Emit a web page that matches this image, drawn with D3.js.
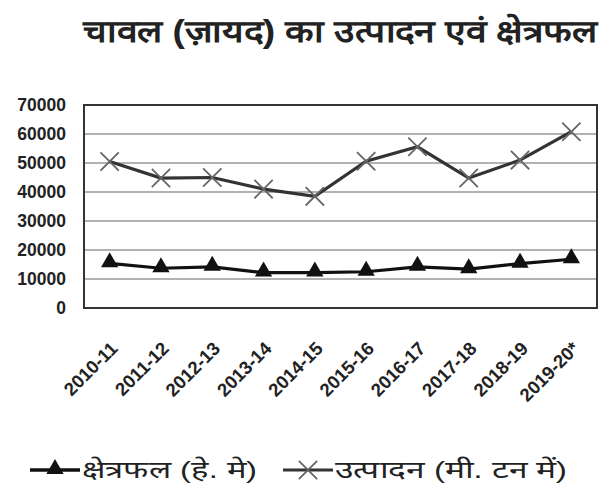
<!DOCTYPE html>
<html><head><meta charset="utf-8">
<script src="https://cdn.jsdelivr.net/npm/d3@7"></script>
<style>
body{margin:0;background:#fff;}
text{font-family:"Liberation Sans",Arial,sans-serif;}
</style></head>
<body>
<svg id="chart" width="603" height="489"></svg>
<script>
const title = "चावल (ज़ायद) का उत्पादन एवं क्षेत्रफल";
const categories = ["2010-11","2011-12","2012-13","2013-14","2014-15","2015-16","2016-17","2017-18","2018-19","2019-20*"];
const production = [50500,44800,45000,41000,38500,50600,55600,44800,51000,60800];
const area = [15400,13700,14200,12200,12200,12500,14200,13400,15300,16800];
const yTicks = [0,10000,20000,30000,40000,50000,60000,70000];
const seriesNames = ["क्षेत्रफल (हे. मे)","उत्पादन (मी. टन में)"];

const svg = d3.select("#chart");
const m = {left:84, right:597, top:105, bottom:308};

const x = d3.scalePoint().domain(categories).range([m.left, m.right]).padding(0.5);
const y = d3.scaleLinear().domain([0,70000]).range([m.bottom, m.top]);

// title
svg.append("text").attr("x", 83).attr("y", 42)
  .attr("font-size", 31).attr("font-weight","bold").attr("fill","#222")
  .attr("textLength", 514).attr("lengthAdjust","spacingAndGlyphs").text(title);

// gridlines
svg.append("g").selectAll("line").data(yTicks.slice(1,-1)).join("line")
  .attr("x1", m.left).attr("x2", m.right).attr("y1", d=>y(d)).attr("y2", d=>y(d))
  .attr("stroke","#999").attr("stroke-width",1.6);

// y axis labels
const yAxis = d3.axisLeft(y).tickValues(yTicks).tickSize(0).tickPadding(18).tickFormat(d3.format("d"));
const ga = svg.append("g").attr("transform",`translate(${m.left},0)`).call(yAxis);
ga.select(".domain").remove();
ga.selectAll("text").attr("font-size",17.5).attr("font-weight","bold").attr("fill","#222")
  .attr("font-family","'Liberation Sans',Arial,sans-serif");

// x axis labels
const xAxis = d3.axisBottom(x).tickSize(0).tickPadding(0);
const gx = svg.append("g").attr("transform",`translate(0,${m.bottom})`).call(xAxis);
gx.select(".domain").remove();
gx.selectAll("text").attr("font-size",18.5).attr("font-weight","bold").attr("fill","#222")
  .attr("font-family","'Liberation Sans',Arial,sans-serif")
  .attr("text-anchor","end").attr("dy",null).attr("y",null)
  .attr("transform","translate(-1,32) rotate(-45)").attr("dominant-baseline","hanging");

// plot border
svg.append("rect").attr("x",m.left).attr("y",m.top).attr("width",m.right-m.left).attr("height",m.bottom-m.top)
  .attr("fill","none").attr("stroke","#333").attr("stroke-width",2);

// production line
const line = d3.line().x((d,i)=>x(categories[i])).y(d=>y(d));
svg.append("path").datum(production).attr("d",line).attr("fill","none").attr("stroke","#333").attr("stroke-width",3.2);
const cross = d3.symbol().type(d3.symbolX).size(220);
svg.append("g").selectAll("path").data(production).join("path")
  .attr("transform",(d,i)=>`translate(${x(categories[i])},${y(d)})`)
  .attr("d",cross()).attr("fill","none").attr("stroke","#666").attr("stroke-width",1.8);

// area line
svg.append("path").datum(area).attr("d",line).attr("fill","none").attr("stroke","#111").attr("stroke-width",3.2);
const tri = d3.symbol().type(d3.symbolTriangle).size(130);
svg.append("g").selectAll("path").data(area).join("path")
  .attr("transform",(d,i)=>`translate(${x(categories[i])},${y(d)-1})`)
  .attr("d",tri()).attr("fill","#111");

// legend
const lg = svg.append("g");
lg.append("line").attr("x1",30).attr("x2",80).attr("y1",470).attr("y2",470).attr("stroke","#111").attr("stroke-width",3.5);
lg.append("path").attr("transform","translate(55,469)").attr("d",tri()).attr("fill","#111");
lg.append("text").attr("x",82).attr("y",478).attr("font-size",24).attr("fill","#222")
  .attr("textLength",175).attr("lengthAdjust","spacingAndGlyphs").text(seriesNames[0]);
lg.append("line").attr("x1",283).attr("x2",333).attr("y1",470).attr("y2",470).attr("stroke","#333").attr("stroke-width",3);
lg.append("path").attr("transform","translate(308,470)").attr("d",cross()).attr("fill","none").attr("stroke","#666").attr("stroke-width",1.8);
lg.append("text").attr("x",335).attr("y",478).attr("font-size",24).attr("fill","#222")
  .attr("textLength",232).attr("lengthAdjust","spacingAndGlyphs").text(seriesNames[1]);
</script>
</body></html>
